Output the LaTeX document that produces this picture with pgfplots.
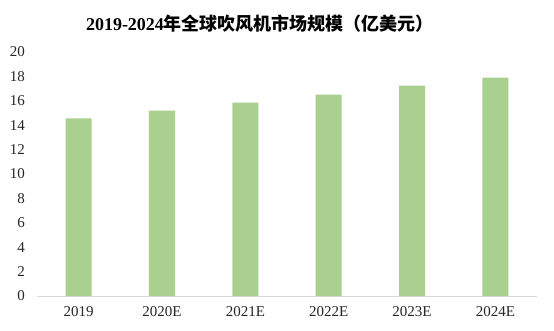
\documentclass[border=0pt]{standalone}
\usepackage{fontspec}
\setmainfont{Liberation Serif}
\newfontfamily\cjk{Noto Sans CJK SC}
\usepackage{pgfplots}
\pgfplotsset{compat=1.18}
\definecolor{bargreen}{RGB}{169,208,142}
\definecolor{axgray}{RGB}{217,217,217}
\begin{document}
\begin{tikzpicture}
\fill[white,use as bounding box] (-37pt,-34pt) rectangle (517pt,296pt);
\node[font=\fontsize{18}{20}\selectfont\bfseries] at (223pt,272pt) {2019-2024{\cjk 年全球吹风机市场规模（亿美元）}};
\begin{axis}[
  at={(0,0)}, anchor=south west,
  scale only axis, width=500pt, height=244pt,
  xmin=-0.5, xmax=5.5, ymin=0, ymax=20,
  ytick={0,2,...,20},
  xtick=data,
  xticklabels={2019,2020E,2021E,2022E,2023E,2024E},
  axis x line*=bottom,
  axis y line*=left,
  x axis line style={draw=axgray, line width=1pt, -},
  y axis line style={draw=none},
  major tick length=0pt,
  ticklabel style={font=\rmfamily\fontsize{15}{17}\selectfont, text=black!85},
  yticklabel style={anchor=east, inner sep=0pt, xshift=-12pt},
  xticklabel style={anchor=north, inner sep=0pt, yshift=-10pt},
  /pgf/number format/assume math mode=true,
  ybar, bar width=26pt,
  clip=false,
]
\addplot[fill=bargreen, draw=none] coordinates {(0,14.55) (1,15.2) (2,15.85) (3,16.5) (4,17.25) (5,17.9)};
\end{axis}
\end{tikzpicture}
\end{document}
